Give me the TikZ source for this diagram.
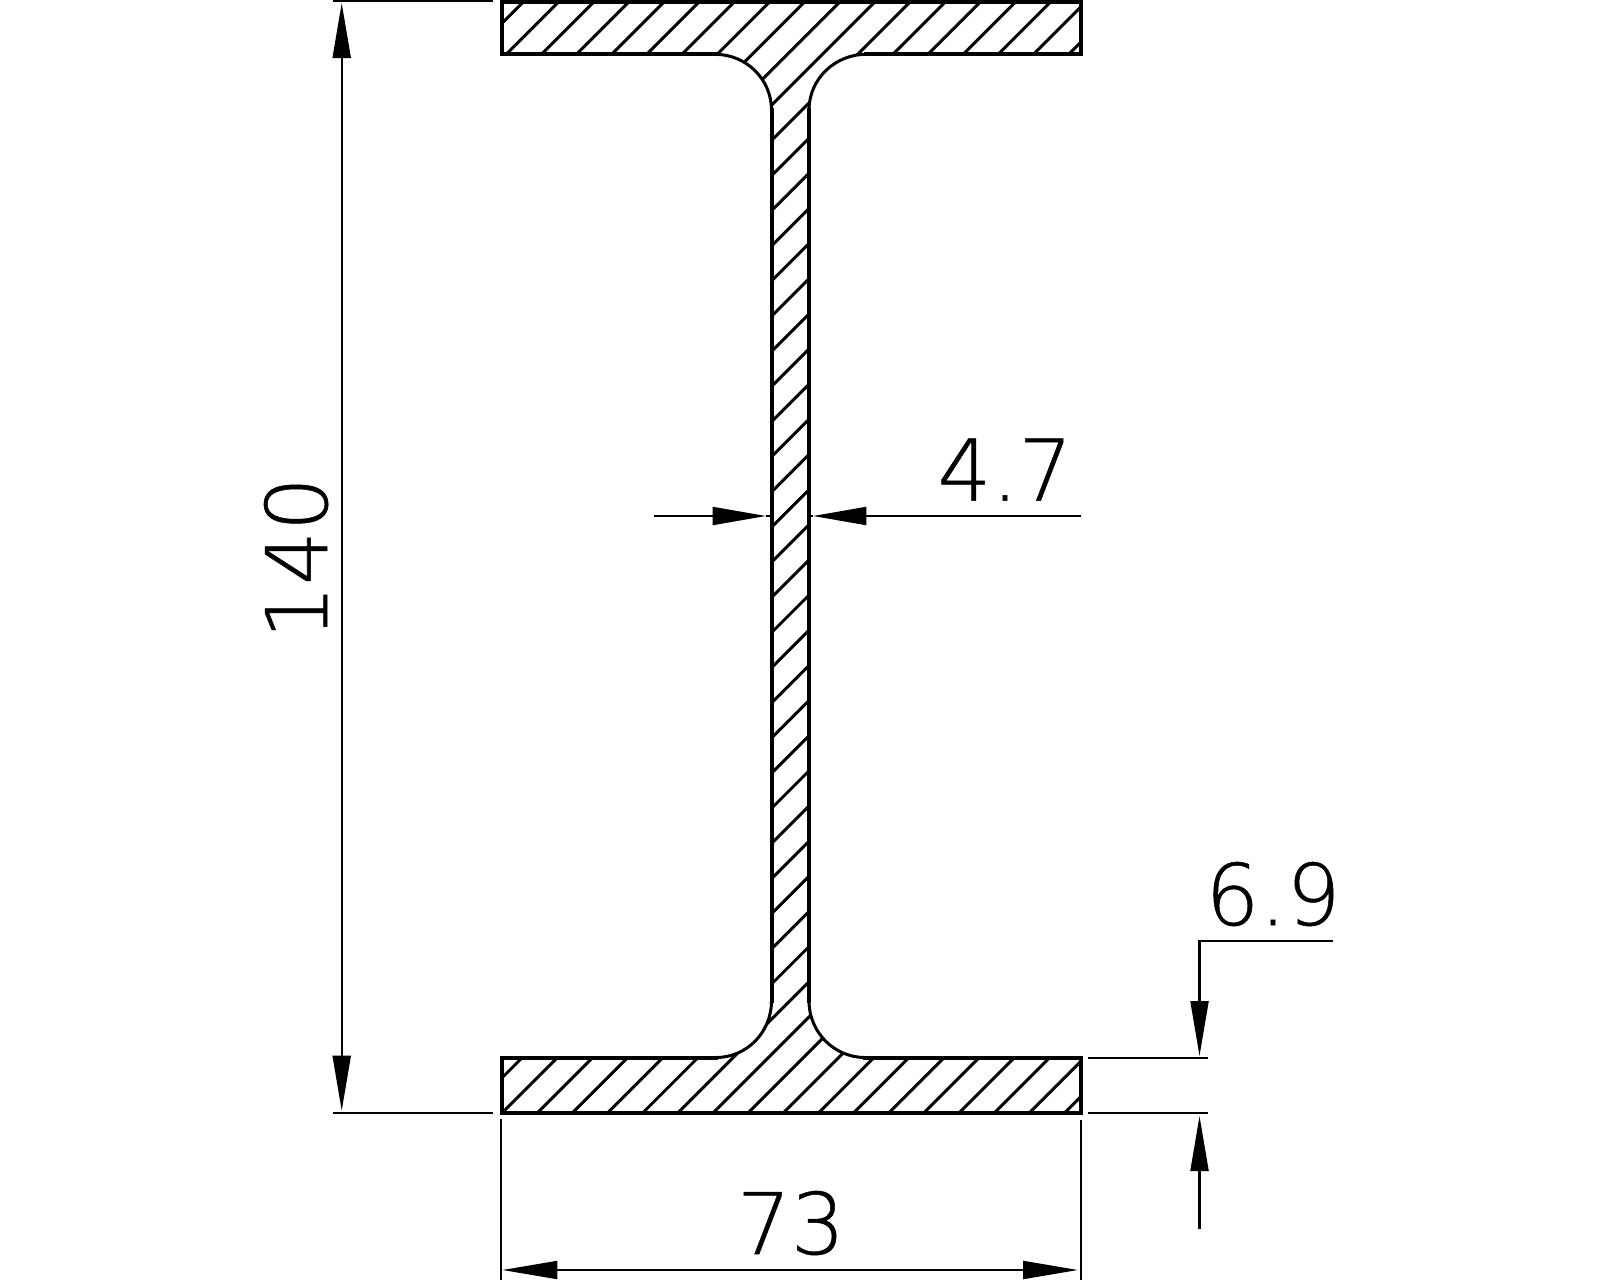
\documentclass[tikz,border=0pt]{standalone}
\usepackage{fontspec}
\usetikzlibrary{arrows.meta}
\newfontfamily\dimfont[RawFeature={embolden=0.6}]{DejaVu Sans ExtraLight}
\tikzset{
  thickline/.style={line width=2pt,line cap=rect,line join=miter},
  filletline/.style={line width=1.5pt},
  hatchline/.style={line width=1.5pt},
  dimline/.style={line width=1.05pt},
  longhead/.tip={Triangle[length=27.5pt,width=9pt,sep=0pt]},
  shorthead/.tip={Triangle[length=26.7pt,width=9pt,sep=0pt]},
  dimtext/.style={inner sep=0pt,font=\dimfont\fontsize{42.5}{42.5}\selectfont,anchor=base,text=black}
}
\begin{document}
\begin{tikzpicture}[x=0.5pt,y=-0.5pt]
\useasboundingbox (0,0) rectangle (1600,1280);
\fill[white] (0,0) rectangle (1600,1280);
% hatching
\begin{scope}
\clip (501.5,1.5) -- (1081,1.5) -- (1081,54.3) -- (866,54.3)
  .. controls (835,54.3) and (809,79) .. (809,110)
  -- (809,1001) .. controls (809,1032) and (834,1057.5) .. (865,1057.5)
  -- (1081,1057.5) -- (1081,1113) -- (501.5,1113) -- (501.5,1057.5) -- (716,1057.5)
  .. controls (747,1057.5) and (771.5,1032) .. (771.5,1001)
  -- (771.5,110) .. controls (771.5,79) and (746,54.3) .. (715,54.3)
  -- (501.5,54.3) -- cycle;
\foreach \k in {0,...,47}{
  \pgfmathsetmacro{\c}{525.35+35.15*\k}
  \draw[hatchline] (\c,0) -- (0,\c);
}
\end{scope}
% section outline
\draw[thickline] (715,54.3) -- (501.5,54.3) -- (501.5,1.5) -- (1081,1.5) -- (1081,54.3) -- (866,54.3);
\draw[thickline] (716,1057.5) -- (501.5,1057.5) -- (501.5,1113) -- (1081,1113) -- (1081,1057.5) -- (865,1057.5);
\draw[thickline] (771.5,110) -- (771.5,1001);
\draw[thickline] (809,110) -- (809,1001);
\draw[filletline] (715,54.3) .. controls (746,54.3) and (771.5,79) .. (771.5,110);
\draw[filletline] (866,54.3) .. controls (835,54.3) and (809,79) .. (809,110);
\draw[filletline] (716,1057.5) .. controls (747,1057.5) and (771.5,1032) .. (771.5,1001);
\draw[filletline] (865,1057.5) .. controls (834,1057.5) and (809,1032) .. (809,1001);
% 140
\coordinate (hTop) at (341.7,3);
\coordinate (hBot) at (341.7,1110.7);
\draw[dimline] (333,0.7) -- (493,0.7);
\draw[dimline] (333,1112.7) -- (493,1112.7);
\draw[dimline,longhead-longhead] (hTop) -- (hBot);
\node[dimtext,rotate=90] (t140) at (327,558) {140};
% 4.7
\draw[dimline,-shorthead] (654,516) -- (766,516);
\draw[dimline] (766,516) -- (771,516);
\draw[dimline,-shorthead] (1080.7,516) -- (813,516);
\draw[dimline] (813,516) -- (810,516);
\node[dimtext] (t47) at (1005,500.7) {4.7};
% 6.9
\draw[dimline,-longhead] (1332.7,940.7) -- (1199.5,940.7) -- (1199.5,1056);
\draw[dimline,-longhead] (1199.5,1229) -- (1199.5,1116);
\draw[dimline] (1088,1057.7) -- (1208,1057.7);
\draw[dimline] (1088,1113) -- (1208,1113);
\node[dimtext] (t69) at (1273,925) {6.9};
% 73
\draw[dimline] (501,1119) -- (501,1280);
\draw[dimline] (1081,1120) -- (1081,1280);
\draw[dimline,longhead-longhead] (502.4,1270) -- (1078,1270);
\node[dimtext] (t73) at (791,1254) {73};
\end{tikzpicture}
\end{document}
